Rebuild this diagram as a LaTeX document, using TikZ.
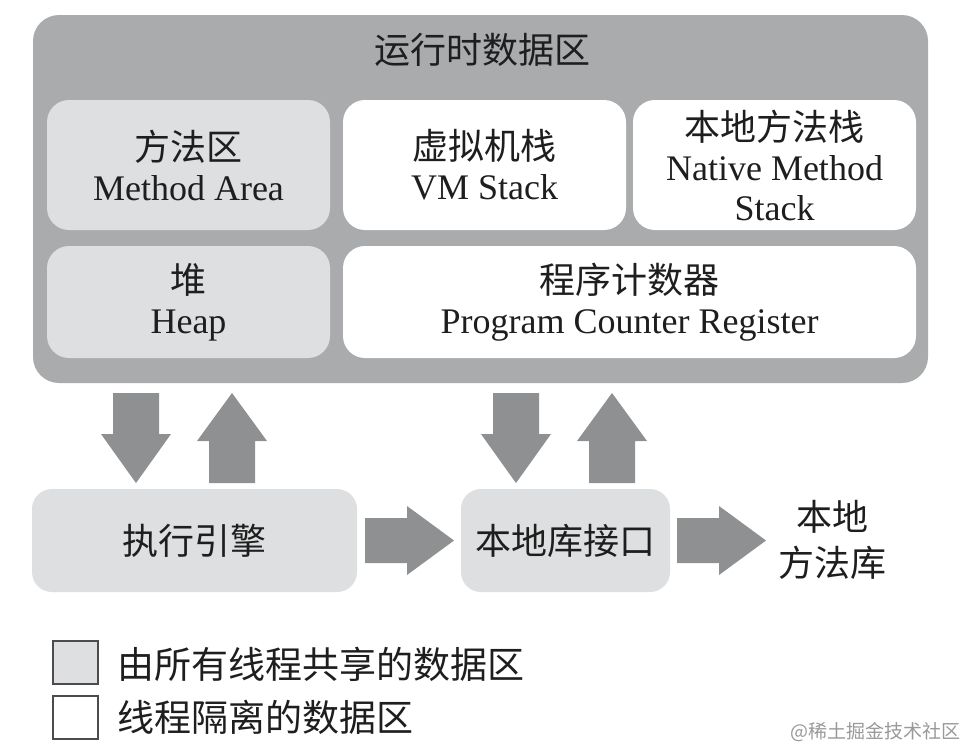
\documentclass[tikz,border=0pt]{standalone}
\usepackage{fontspec}
\setmainfont{Liberation Serif}
\newfontfamily\cjk{Noto Sans CJK SC}
\definecolor{outergray}{HTML}{A9ABAD}
\definecolor{arrowgray}{HTML}{8E9092}
\definecolor{lightgray}{HTML}{DDDFE0}
\definecolor{textdark}{HTML}{1E1E1E}
\begin{document}
\begin{tikzpicture}[x=1pt,y=-1pt,
  txt/.style={font=\fontsize{36}{40}\selectfont, text=textdark, align=center},
  shared/.style={txt, fill=lightgray, rounded corners=22pt, inner sep=0pt},
  private/.style={txt, fill=white, rounded corners=22pt, inner sep=0pt},
  blockfill/.style={fill=arrowgray},
  pics/bdown/.style={code={\fill[blockfill] (-23,0) -- (23,0) -- (23,41) -- (35,41) -- (0,90) -- (-35,41) -- (-23,41) -- cycle;}},
  pics/bup/.style={code={\fill[blockfill] (0,0) -- (35,48) -- (23,48) -- (23,90) -- (-23,90) -- (-23,48) -- (-35,48) -- cycle;}},
  pics/bright/.style={code={\fill[blockfill] (0,-22.5) -- (42,-22.5) -- (42,-34.5) -- (89,0) -- (42,34.5) -- (42,22.5) -- (0,22.5) -- cycle;}},
  legend/.style={draw=black!70, line width=1.5pt, minimum width=45pt, minimum height=43pt, inner sep=0pt}
]
\useasboundingbox (0,0) rectangle (966,748);
\fill[white] (0,0) rectangle (966,748);

% runtime data area
\node[fill=outergray, rounded corners=26pt, minimum width=895pt, minimum height=368pt, inner sep=0pt] (rt) at (480.5,199) {};
\node[txt] (title) at (482,50) {\cjk 运行时数据区};

\node[shared, minimum width=283pt, minimum height=130pt] (ma) at (188.5,165) {{\cjk 方法区}\\Method Area};
\node[private, minimum width=283pt, minimum height=130pt] (vm) at (484.5,165) {{\cjk 虚拟机栈}\\VM Stack};
\node[private, minimum width=283pt, minimum height=130pt] (nms) at (774.5,165) {{\cjk 本地方法栈}\\Native Method\\Stack};
\node[shared, minimum width=283pt, minimum height=112pt] (heap) at (188.5,302) {{\cjk 堆}\\Heap};
\node[private, minimum width=573pt, minimum height=112pt] (pc) at (629.5,302) {{\cjk 程序计数器}\\Program Counter Register};

% execution engine, native interface, native libraries
\node[shared, rounded corners=20pt, minimum width=325pt, minimum height=103pt] (ee) at (194.5,540.5) {\cjk 执行引擎};
\node[shared, rounded corners=20pt, minimum width=209pt, minimum height=103pt] (ni) at (565.5,540.5) {\cjk 本地库接口};
\node[txt, font=\cjk\fontsize{36}{46}\selectfont] (nl) at (832,540) {本地\\方法库};

% block arrows
\path (136,393) pic {bdown};
\path (232,393) pic {bup};
\path (516,393) pic {bdown};
\path (612,393) pic {bup};
\path (365,540.5) pic {bright};
\path (677,540.5) pic {bright};

% legend
\node[legend, fill=lightgray] (lg1) at (75.5,662.5) {};
\node[legend, fill=white] (lg2) at (75.5,717.5) {};
\node[txt, anchor=west, font=\cjk\fontsize{37}{40}\selectfont] (lt1) at (114,664) {由所有线程共享的数据区};
\node[txt, anchor=west, font=\cjk\fontsize{37}{40}\selectfont] (lt2) at (114,717) {线程隔离的数据区};

% watermark
\node[anchor=east, text=black!40, font=\cjk\fontsize{19}{22}\selectfont, inner sep=0pt] (wm) at (961,732) {@稀土掘金技术社区};
\end{tikzpicture}
\end{document}
